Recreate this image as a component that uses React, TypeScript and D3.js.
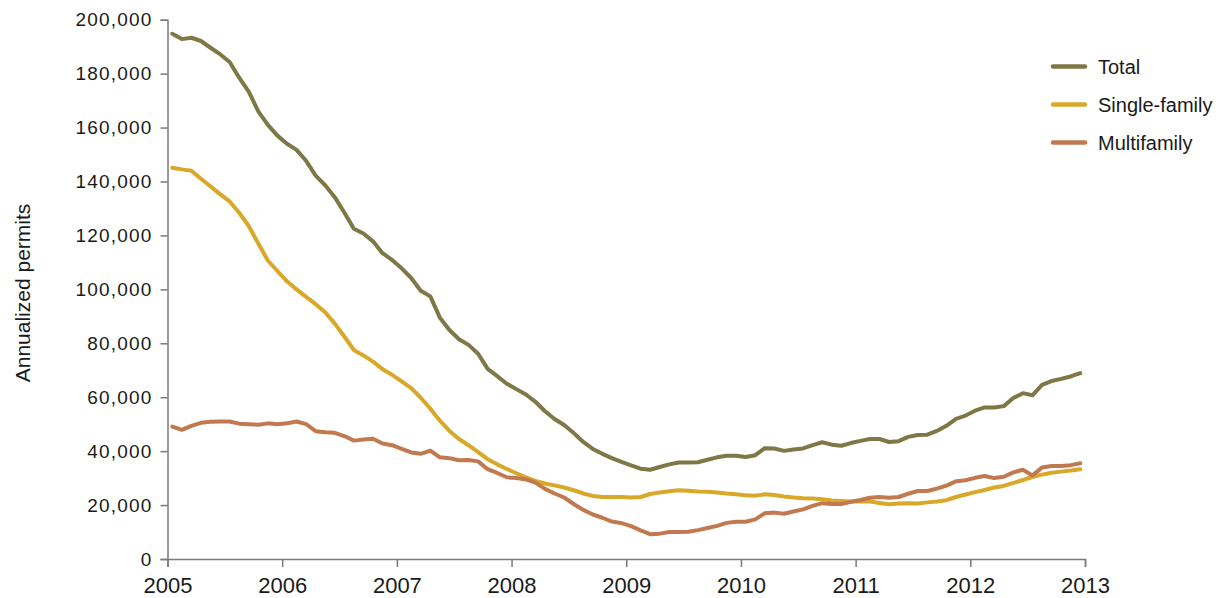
import { useEffect, useRef } from 'react'
import * as d3 from 'd3'

// monthly annualized permits, thousands, Jan 2005 - Dec 2012
const total = [
  194.8, 192.8, 193.3, 192.1, 189.6, 187.2, 184.3, 178.5, 173.3, 166, 161, 157,
  154, 151.7, 147.7, 142.2, 138.6, 134.2, 128.5, 122.5, 120.7, 117.8, 113.4, 110.9,
  107.8, 104.2, 99.5, 97.4, 89.5, 84.9, 81.5, 79.4, 76.1, 70.5, 67.8, 65,
  63, 61, 58.3, 54.8, 51.9, 49.7, 46.7, 43.4, 40.8, 39, 37.4, 36,
  34.7, 33.5, 33.1, 34.1, 35.1, 35.8, 35.8, 35.9, 36.8, 37.7, 38.3, 38.3,
  37.8, 38.5, 41.1, 41, 40.1, 40.6, 41, 42.2, 43.3, 42.4, 42, 43,
  43.8, 44.5, 44.5, 43.4, 43.7, 45.3, 46, 46.1, 47.5, 49.4, 52, 53.2,
  55, 56.2, 56.2, 56.7, 59.7, 61.5, 60.7, 64.6, 66, 66.8, 67.7, 68.9,
]

const singleFamily = [
  145.1, 144.5, 144, 141, 138.2, 135.3, 132.6, 128.4, 123.5, 117, 110.7, 106.8,
  103, 100, 97.2, 94.5, 91.5, 87.3, 82.5, 77.5, 75.5, 73.2, 70.4, 68.3,
  65.9, 63.4, 59.8, 55.7, 51.3, 47.5, 44.5, 42.2, 39.6, 37, 35.1, 33.4,
  31.8, 30.3, 29, 28, 27.3, 26.5, 25.5, 24.3, 23.4, 23, 23, 23,
  22.8, 23, 24.1, 24.7, 25.1, 25.5, 25.3, 25, 24.9, 24.7, 24.3, 24,
  23.6, 23.5, 24, 23.7, 23.2, 22.8, 22.5, 22.4, 22.2, 21.7, 21.5, 21.3,
  21.3, 21.3, 20.8, 20.3, 20.6, 20.7, 20.6, 21, 21.3, 21.8, 23, 23.9,
  24.8, 25.6, 26.5, 27.1, 28.2, 29.3, 30.4, 31.3, 32, 32.4, 32.8, 33.3,
]

const multifamily = [
  49.1, 47.9, 49.4, 50.5, 50.9, 51, 51, 50.2, 50, 49.8, 50.3, 50,
  50.3, 51, 50, 47.4, 47, 46.8, 45.6, 43.9, 44.3, 44.6, 42.8, 42.2,
  40.8, 39.5, 39, 40.2, 37.7, 37.4, 36.6, 36.7, 36.2, 33.3, 31.9, 30.3,
  30, 29.5, 28.3, 26, 24.3, 22.8, 20.4, 18.2, 16.5, 15.3, 13.9, 13.3,
  12.2, 10.6, 9.2, 9.4, 10, 10, 10.1, 10.7, 11.5, 12.3, 13.4, 13.8,
  13.8, 14.7, 17, 17.2, 16.8, 17.6, 18.4, 19.7, 20.7, 20.4, 20.4, 21.2,
  21.9, 22.7, 23, 22.7, 23, 24.2, 25.2, 25.2, 26.1, 27.2, 28.8, 29.2,
  30.1, 30.8, 30, 30.5, 32.1, 33.1, 31, 33.9, 34.5, 34.5, 34.8, 35.5,
]

const seriesNames = ['Total', 'Single-family', 'Multifamily']
const seriesColors = ['#7e7746', '#d9a829', '#c17a4f']
const yearTicks = [2005, 2006, 2007, 2008, 2009, 2010, 2011, 2012, 2013]
const valueTicks = [0, 20, 40, 60, 80, 100, 120, 140, 160, 180, 200]
const startYear = 2005

const FONT = '"Liberation Sans", Arial, sans-serif'

export default function App() {
  const svgRef = useRef<SVGSVGElement | null>(null)

  useEffect(() => {
    if (!svgRef.current) return
    const svg = d3.select(svgRef.current)
    svg.selectAll('*').remove()

    const x = d3.scaleLinear().domain([2005, 2013]).range([167.5, 1085])
    const y = d3.scaleLinear().domain([0, 200]).range([559, 19.7])

    const axisColor = '#7a7a7a'

    // y axis
    const yAxis = svg
      .append('g')
      .attr('transform', `translate(${x(2005)},0)`)
      .call(
        d3
          .axisLeft(y)
          .tickValues(valueTicks)
          .tickSize(7)
          .tickPadding(8)
          .tickFormat((d) => d3.format(',')((d as number) * 1000))
      )
    yAxis.select('.domain').attr('stroke', axisColor).attr('stroke-width', 1.5)
    yAxis.selectAll('.tick line').attr('stroke', axisColor).attr('stroke-width', 1.5)
    yAxis
      .selectAll('.tick text')
      .attr('fill', '#1a1a1a')
      .style('font-family', FONT)
      .style('font-size', '19px')
      .style('letter-spacing', '1.2px')

    // x axis
    const xAxis = svg
      .append('g')
      .attr('transform', `translate(0,${y(0)})`)
      .call(
        d3
          .axisBottom(x)
          .tickValues(yearTicks)
          .tickSize(8)
          .tickPadding(10)
          .tickFormat((d) => String(d))
      )
    xAxis.select('.domain').attr('stroke', axisColor).attr('stroke-width', 1.5)
    xAxis.selectAll('.tick line').attr('stroke', axisColor).attr('stroke-width', 1.5)
    xAxis
      .selectAll('.tick text')
      .attr('fill', '#1a1a1a')
      .style('font-family', FONT)
      .style('font-size', '22px')

    // y title
    svg
      .append('text')
      .attr('transform', `translate(30,293) rotate(-90)`)
      .attr('text-anchor', 'middle')
      .attr('fill', '#1a1a1a')
      .style('font-family', FONT)
      .style('font-size', '21px')
      .text('Annualized permits')

    // lines
    const allSeries = [total, singleFamily, multifamily]
    const line = d3
      .line<number>()
      .x((_, i) => x(startYear + (i + 0.5) / 12))
      .y((d) => y(d))

    allSeries.forEach((values, k) => {
      svg
        .append('path')
        .datum(values)
        .attr('fill', 'none')
        .attr('stroke', seriesColors[k])
        .attr('stroke-width', 4)
        .attr('stroke-linejoin', 'round')
        .attr('stroke-linecap', 'round')
        .attr('d', line)
    })

    // legend
    const legend = svg.append('g').attr('transform', 'translate(1053,66.5)')
    seriesNames.forEach((name, k) => {
      const row = legend.append('g').attr('transform', `translate(0,${k * 38})`)
      row
        .append('line')
        .attr('x1', 0)
        .attr('x2', 32)
        .attr('stroke', seriesColors[k])
        .attr('stroke-width', 4.5)
        .attr('stroke-linecap', 'round')
      row
        .append('text')
        .attr('x', 45)
        .attr('dy', '0.35em')
        .attr('fill', '#1a1a1a')
        .style('font-family', FONT)
        .style('font-size', '20px')
        .text(name)
    })
  }, [])

  return (
    <svg
      ref={svgRef}
      width={1225}
      height={598}
      style={{ position: 'absolute', left: 0, top: 0, background: '#fff' }}
    />
  )
}
